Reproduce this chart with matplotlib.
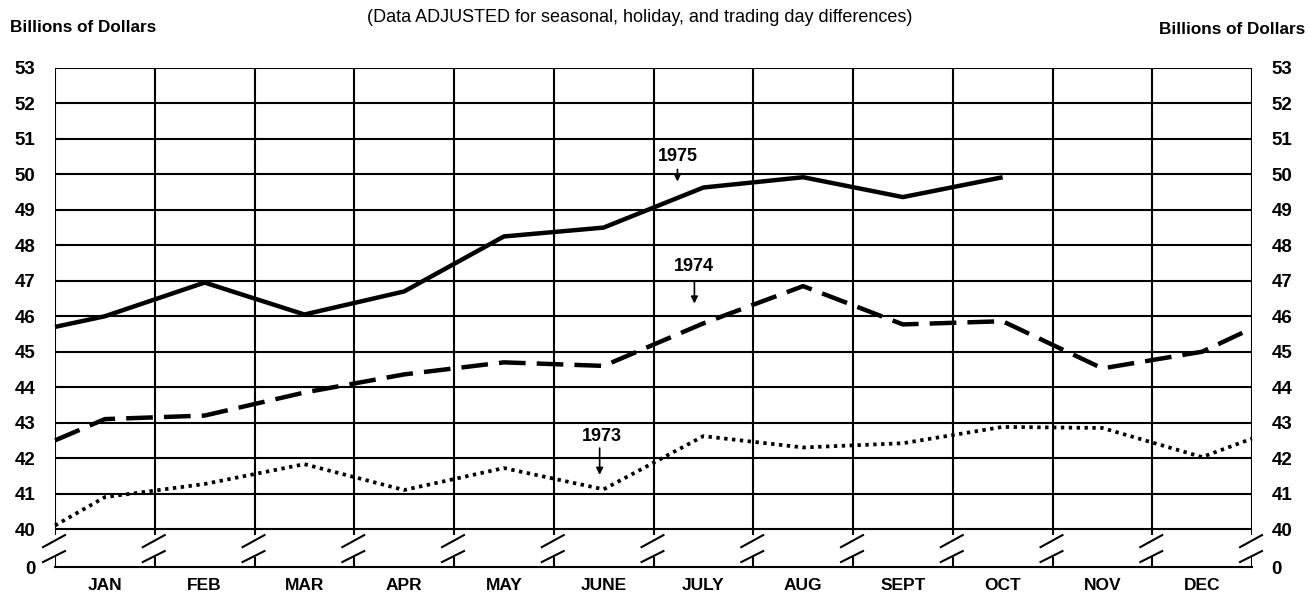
import numpy as np
import matplotlib.pyplot as plt

plt.rcParams['font.family'] = ['Liberation Sans', 'DejaVu Sans']

# monthly values, billions of dollars
months = ['JAN', 'FEB', 'MAR', 'APR', 'MAY', 'JUNE',
          'JULY', 'AUG', 'SEPT', 'OCT', 'NOV', 'DEC']
y1973 = [40.9, 41.27, 41.83, 41.1, 41.72, 41.12, 42.62, 42.3, 42.42, 42.88, 42.85, 42.03]
y1974 = [43.1, 43.2, 43.85, 44.36, 44.7, 44.6, 45.8, 46.85, 45.77, 45.86, 44.53, 45.0]
y1975 = [46.0, 46.95, 46.05, 46.7, 48.25, 48.5, 49.63, 49.92, 49.36, 49.92]
# where each curve meets the left / right edge of the grid
start_1973, end_1973 = 40.1, 42.55
start_1974, end_1974 = 42.5, 45.66
start_1975 = 45.7

zero_pos = 38.93   # where the broken axis puts "0"
mid = np.arange(12) + 0.5

fig = plt.figure(figsize=(13.09, 5.96), dpi=100)
ax = fig.add_axes([55 / 1309, 1 - 567 / 596, (1252 - 55) / 1309, (567 - 68) / 596])
ax.set_xlim(0, 12)
ax.set_ylim(zero_pos, 53)

for s in ['left', 'right', 'top']:
    ax.spines[s].set_visible(False)
ax.spines['bottom'].set_linewidth(1.5)

# grid
ax.hlines(range(40, 54), 0, 12, color='black', lw=1.5, zorder=1)
ax.vlines(range(13), 39.83, 53, color='black', lw=1.5, zorder=1)
ax.vlines(range(13), zero_pos, 39.2, color='black', lw=1.5, zorder=1)
for i in range(13):
    ax.plot([i - 0.12, i + 0.10], [39.49, 39.83], color='black', lw=1.5, clip_on=False)
    ax.plot([i - 0.12, i + 0.10], [39.07, 39.38], color='black', lw=1.5, clip_on=False)

# the three years
x73 = np.concatenate([[0], mid, [12]])
ax.plot(x73, [start_1973] + y1973 + [end_1973], color='black', lw=2.7,
        dashes=(0.9, 1.2), zorder=3, clip_on=False)
ax.plot(x73, [start_1974] + y1974 + [end_1974], color='black', lw=3.2,
        dashes=(6, 2.5), zorder=3, clip_on=False)
x75 = np.concatenate([[0], mid[:len(y1975)]])
ax.plot(x75, [start_1975] + y1975, color='black', lw=3.2, zorder=3,
        solid_capstyle='butt', clip_on=False)

lbl = dict(ha='center', va='center', fontsize=13, fontweight='bold', zorder=4,
           bbox=dict(facecolor='white', edgecolor='none', pad=1))
arr = dict(arrowstyle='-|>', color='black', lw=1.2, mutation_scale=10)
ax.text(6.24, 50.5, '1975', **lbl)
ax.annotate('', xy=(6.24, 49.72), xytext=(6.24, 50.22), arrowprops=arr, zorder=4)
ax.text(6.40, 47.4, '1974', **lbl)
ax.annotate('', xy=(6.41, 46.28), xytext=(6.41, 47.05), arrowprops=arr, zorder=4)
ax.text(5.48, 42.6, '1973', **lbl)
ax.annotate('', xy=(5.46, 41.45), xytext=(5.46, 42.36), arrowprops=arr, zorder=4)

# axes labels
yt = [zero_pos] + list(range(40, 54))
ax.set_yticks(yt, ['0'] + [str(v) for v in range(40, 54)])
ax.set_xticks(mid, months)
ax.tick_params(axis='y', length=0, pad=14, labelleft=True, labelright=True,
               labelsize=13.5)
ax.tick_params(axis='x', length=0, pad=8, labelsize=12.5)
for t in ax.get_yticklabels() + ax.get_xticklabels():
    t.set_fontweight('bold')

fig.text(10 / 1309, 1 - 28 / 596, 'Billions of Dollars', ha='left', va='center',
         fontsize=12.3, fontweight='bold')
fig.text(1305 / 1309, 1 - 30 / 596, 'Billions of Dollars', ha='right', va='center',
         fontsize=12.3, fontweight='bold')
fig.text(640 / 1309, 1 - 17 / 596,
         '(Data ADJUSTED for seasonal, holiday, and trading day differences)',
         ha='center', va='center', fontsize=13)

fig.savefig('out.png', dpi=100)
